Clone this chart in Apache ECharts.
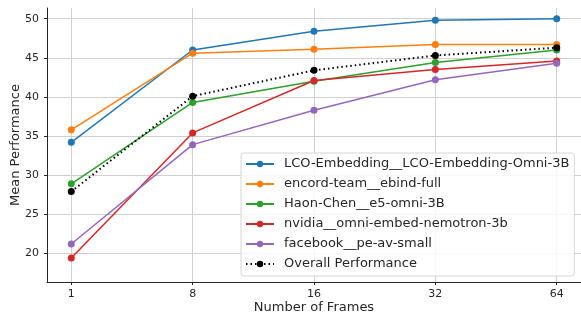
<!DOCTYPE html>
<html>
<head>
<meta charset="utf-8">
<script src="https://cdn.jsdelivr.net/npm/echarts@6/dist/echarts.min.js"></script>
<style>
  html, body { margin: 0; padding: 0; background: #fff; }
  #chart { width: 581px; height: 314px; }
</style>
</head>
<body>
<div id="chart"></div>
<script>
// frame counts on the x axis (drawn evenly spaced)
var frames = ['1', '8', '16', '32', '64'];
var yTicks = [20, 25, 30, 35, 40, 45, 50];

var seriesNames = [
  'LCO-Embedding__LCO-Embedding-Omni-3B',
  'encord-team__ebind-full',
  'Haon-Chen__e5-omni-3B',
  'nvidia__omni-embed-nemotron-3b',
  'facebook__pe-av-small',
  'Overall Performance'
];
var lcoVals      = [34.2, 46.0, 48.4, 49.8, 50.0];
var encordVals   = [35.8, 45.6, 46.1, 46.7, 46.7];
var haonVals     = [28.9, 39.3, 42.0, 44.4, 46.0];
var nvidiaVals   = [19.4, 35.4, 42.1, 43.5, 44.6];
var facebookVals = [21.2, 33.9, 38.3, 42.2, 44.3];
var overallVals  = [27.9, 40.1, 43.4, 45.3, 46.3];

var allVals = [lcoVals, encordVals, haonVals, nvidiaVals, facebookVals, overallVals];
var colors = ['#1f77b4', '#ff7f0e', '#2ca02c', '#d62728', '#9467bd', '#000000'];

var font = 'DejaVu Sans';
var chart = echarts.init(document.getElementById('chart'));

var series = allVals.map(function (vals, k) {
  var isOverall = k === 5;
  return {
    name: seriesNames[k],
    type: 'line',
    data: vals.map(function (v, i) { return [i, v]; }),
    symbol: 'circle',
    symbolSize: 7,
    showSymbol: true,
    animation: false,
    z: 2 + k,
    itemStyle: { color: colors[k] },
    lineStyle: {
      color: colors[k],
      width: isOverall ? 2 : 1.5,
      type: isOverall ? [1.5, 3] : 'solid'
    },
    emphasis: { disabled: true }
  };
});

var option = {
  animation: false,
  backgroundColor: '#ffffff',
  grid: { left: 47, right: 0, top: 8, bottom: 32, outerBoundsMode: 'none', containLabel: false },
  xAxis: {
    type: 'value',
    min: -0.2,
    max: 4.2,
    name: 'Number of Frames',
    nameLocation: 'middle',
    nameGap: 19,
    nameMoveOverlap: false,
    nameTextStyle: { fontFamily: font, fontSize: 13, color: '#262626' },
    axisLine: { show: true, onZero: false, lineStyle: { color: '#262626', width: 1 } },
    axisTick: { show: true, length: 3, customValues: [0, 1, 2, 3, 4], lineStyle: { color: '#262626' } },
    axisLabel: {
      customValues: [0, 1, 2, 3, 4],
      formatter: function (v) { return frames[Math.round(v)]; },
      fontFamily: font, fontSize: 11, color: '#262626', margin: 7
    },
    splitLine: { show: true, lineStyle: { color: '#d0d0d0', width: 1 } }
  },
  yAxis: {
    type: 'value',
    min: 16.34,
    max: 51.37,
    name: 'Mean Performance',
    nameLocation: 'middle',
    nameGap: 25,
    nameMoveOverlap: false,
    nameTextStyle: { fontFamily: font, fontSize: 13, color: '#262626' },
    axisLine: { show: true, onZero: false, lineStyle: { color: '#262626', width: 1 } },
    axisTick: { show: true, length: 3, customValues: yTicks, lineStyle: { color: '#262626' } },
    axisLabel: { customValues: yTicks, fontFamily: font, fontSize: 11, color: '#262626', margin: 8 },
    splitLine: { show: true, lineStyle: { color: '#d0d0d0', width: 1 } }
  },
  legend: {
    orient: 'vertical',
    left: 241,
    top: 153,
    padding: [4, 5, 5, 4],
    itemWidth: 28,
    itemHeight: 8,
    itemGap: 6,
    backgroundColor: 'rgba(255,255,255,0.85)',
    borderColor: '#d6d6d6',
    borderWidth: 1,
    borderRadius: 3,
    textStyle: { fontFamily: font, fontSize: 13, color: '#262626', lineHeight: 14, padding: [0, 0, 0, 5] },
    data: seriesNames
  },
  series: series
};

chart.setOption(option);
</script>
</body>
</html>
